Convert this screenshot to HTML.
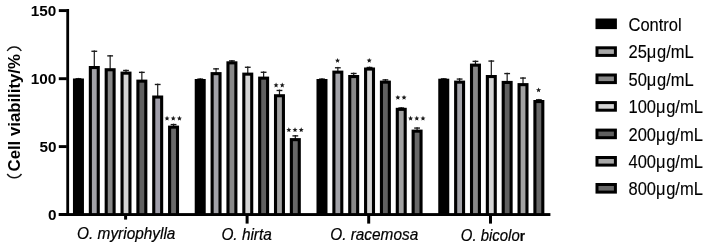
<!DOCTYPE html>
<html><head><meta charset="utf-8"><style>
html,body{margin:0;padding:0;background:#fff;}
body{width:708px;height:248px;overflow:hidden;}
svg{display:block;filter:blur(0.4px);}
text{font-family:"Liberation Sans",sans-serif;fill:#000;}
.tl{font-size:15.3px;font-weight:bold;}
.xl{font-size:15.4px;font-style:italic;fill:#000;stroke:#000;stroke-width:0.2px;}
.sg{font-size:13px;}
.lg{font-size:16.5px;fill:#000;stroke:#000;stroke-width:0.12px;}
.rb{font-style:normal;font-weight:bold;font-size:13.8px;}
.txt{filter:grayscale(1);}
.yt{font-size:16.75px;font-weight:bold;}
</style></head><body>
<svg width="708" height="248" viewBox="0 0 708 248">
<rect x="77.85" y="77.90" width="1.2" height="1.60" fill="#1a1a1a"/>
<rect x="75.55" y="78.10" width="5.8" height="1.35" fill="#1a1a1a"/>
<rect x="93.70" y="50.40" width="1.2" height="16.60" fill="#1a1a1a"/>
<rect x="91.40" y="50.60" width="5.8" height="1.35" fill="#1a1a1a"/>
<rect x="109.55" y="55.00" width="1.2" height="14.20" fill="#1a1a1a"/>
<rect x="107.25" y="55.20" width="5.8" height="1.35" fill="#1a1a1a"/>
<rect x="125.40" y="69.60" width="1.2" height="3.00" fill="#1a1a1a"/>
<rect x="123.10" y="69.80" width="5.8" height="1.35" fill="#1a1a1a"/>
<rect x="141.25" y="71.50" width="1.2" height="9.10" fill="#1a1a1a"/>
<rect x="138.95" y="71.70" width="5.8" height="1.35" fill="#1a1a1a"/>
<rect x="157.10" y="83.60" width="1.2" height="12.90" fill="#1a1a1a"/>
<rect x="154.80" y="83.80" width="5.8" height="1.35" fill="#1a1a1a"/>
<rect x="172.95" y="123.70" width="1.2" height="2.90" fill="#1a1a1a"/>
<rect x="170.65" y="123.90" width="5.8" height="1.35" fill="#1a1a1a"/>
<rect x="199.62" y="78.20" width="1.2" height="1.80" fill="#1a1a1a"/>
<rect x="197.32" y="78.40" width="5.8" height="1.35" fill="#1a1a1a"/>
<rect x="215.47" y="68.00" width="1.2" height="5.10" fill="#1a1a1a"/>
<rect x="213.17" y="68.20" width="5.8" height="1.35" fill="#1a1a1a"/>
<rect x="231.32" y="60.00" width="1.2" height="2.30" fill="#1a1a1a"/>
<rect x="229.02" y="60.20" width="5.8" height="1.35" fill="#1a1a1a"/>
<rect x="247.17" y="66.40" width="1.2" height="7.20" fill="#1a1a1a"/>
<rect x="244.87" y="66.60" width="5.8" height="1.35" fill="#1a1a1a"/>
<rect x="263.02" y="71.40" width="1.2" height="6.20" fill="#1a1a1a"/>
<rect x="260.72" y="71.60" width="5.8" height="1.35" fill="#1a1a1a"/>
<rect x="278.87" y="89.60" width="1.2" height="5.60" fill="#1a1a1a"/>
<rect x="276.57" y="89.80" width="5.8" height="1.35" fill="#1a1a1a"/>
<rect x="294.72" y="135.00" width="1.2" height="4.10" fill="#1a1a1a"/>
<rect x="292.42" y="135.20" width="5.8" height="1.35" fill="#1a1a1a"/>
<rect x="321.39" y="78.20" width="1.2" height="1.80" fill="#1a1a1a"/>
<rect x="319.09" y="78.40" width="5.8" height="1.35" fill="#1a1a1a"/>
<rect x="337.24" y="66.90" width="1.2" height="4.70" fill="#1a1a1a"/>
<rect x="334.94" y="67.10" width="5.8" height="1.35" fill="#1a1a1a"/>
<rect x="353.09" y="72.60" width="1.2" height="3.40" fill="#1a1a1a"/>
<rect x="350.79" y="72.80" width="5.8" height="1.35" fill="#1a1a1a"/>
<rect x="368.94" y="66.60" width="1.2" height="1.90" fill="#1a1a1a"/>
<rect x="366.64" y="66.80" width="5.8" height="1.35" fill="#1a1a1a"/>
<rect x="384.79" y="79.00" width="1.2" height="2.60" fill="#1a1a1a"/>
<rect x="382.49" y="79.20" width="5.8" height="1.35" fill="#1a1a1a"/>
<rect x="400.64" y="107.10" width="1.2" height="1.70" fill="#1a1a1a"/>
<rect x="398.34" y="107.30" width="5.8" height="1.35" fill="#1a1a1a"/>
<rect x="416.49" y="127.20" width="1.2" height="3.40" fill="#1a1a1a"/>
<rect x="414.19" y="127.40" width="5.8" height="1.35" fill="#1a1a1a"/>
<rect x="443.16" y="78.00" width="1.2" height="1.70" fill="#1a1a1a"/>
<rect x="440.86" y="78.20" width="5.8" height="1.35" fill="#1a1a1a"/>
<rect x="459.01" y="78.20" width="1.2" height="3.40" fill="#1a1a1a"/>
<rect x="456.71" y="78.40" width="5.8" height="1.35" fill="#1a1a1a"/>
<rect x="474.86" y="60.50" width="1.2" height="4.10" fill="#1a1a1a"/>
<rect x="472.56" y="60.70" width="5.8" height="1.35" fill="#1a1a1a"/>
<rect x="490.71" y="60.20" width="1.2" height="15.80" fill="#1a1a1a"/>
<rect x="488.41" y="60.40" width="5.8" height="1.35" fill="#1a1a1a"/>
<rect x="506.56" y="72.70" width="1.2" height="9.20" fill="#1a1a1a"/>
<rect x="504.26" y="72.90" width="5.8" height="1.35" fill="#1a1a1a"/>
<rect x="522.41" y="77.20" width="1.2" height="6.90" fill="#1a1a1a"/>
<rect x="520.11" y="77.40" width="5.8" height="1.35" fill="#1a1a1a"/>
<rect x="538.26" y="98.90" width="1.2" height="2.10" fill="#1a1a1a"/>
<rect x="535.96" y="99.10" width="5.8" height="1.35" fill="#1a1a1a"/>
<rect x="72.95" y="78.50" width="11.0" height="135.70" fill="#000"/>
<rect x="88.80" y="66.00" width="11.0" height="148.20" fill="#000"/>
<rect x="91.90" y="69.10" width="4.80" height="145.10" fill="#a2a2a8"/>
<rect x="104.65" y="68.20" width="11.0" height="146.00" fill="#000"/>
<rect x="107.75" y="71.30" width="4.80" height="142.90" fill="#888888"/>
<rect x="120.50" y="71.60" width="11.0" height="142.60" fill="#000"/>
<rect x="123.60" y="74.70" width="4.80" height="139.50" fill="#d4d4d4"/>
<rect x="136.35" y="79.60" width="11.0" height="134.60" fill="#000"/>
<rect x="139.45" y="82.70" width="4.80" height="131.50" fill="#606060"/>
<rect x="152.20" y="95.50" width="11.0" height="118.70" fill="#000"/>
<rect x="155.30" y="98.60" width="4.80" height="115.60" fill="#a09eaa"/>
<rect x="168.05" y="125.60" width="11.0" height="88.60" fill="#000"/>
<rect x="171.15" y="128.70" width="4.80" height="85.50" fill="#686868"/>
<rect x="194.72" y="79.00" width="11.0" height="135.20" fill="#000"/>
<rect x="210.57" y="72.10" width="11.0" height="142.10" fill="#000"/>
<rect x="213.67" y="75.20" width="4.80" height="139.00" fill="#a2a2a8"/>
<rect x="226.42" y="61.30" width="11.0" height="152.90" fill="#000"/>
<rect x="229.52" y="64.40" width="4.80" height="149.80" fill="#888888"/>
<rect x="242.27" y="72.60" width="11.0" height="141.60" fill="#000"/>
<rect x="245.37" y="75.70" width="4.80" height="138.50" fill="#d4d4d4"/>
<rect x="258.12" y="76.60" width="11.0" height="137.60" fill="#000"/>
<rect x="261.22" y="79.70" width="4.80" height="134.50" fill="#606060"/>
<rect x="273.97" y="94.20" width="11.0" height="120.00" fill="#000"/>
<rect x="277.07" y="97.30" width="4.80" height="116.90" fill="#a2a2a2"/>
<rect x="289.82" y="138.10" width="11.0" height="76.10" fill="#000"/>
<rect x="292.92" y="141.20" width="4.80" height="73.00" fill="#686868"/>
<rect x="316.49" y="79.00" width="11.0" height="135.20" fill="#000"/>
<rect x="332.34" y="70.60" width="11.0" height="143.60" fill="#000"/>
<rect x="335.44" y="73.70" width="4.80" height="140.50" fill="#a2a2a8"/>
<rect x="348.19" y="75.00" width="11.0" height="139.20" fill="#000"/>
<rect x="351.29" y="78.10" width="4.80" height="136.10" fill="#888888"/>
<rect x="364.04" y="67.50" width="11.0" height="146.70" fill="#000"/>
<rect x="367.14" y="70.60" width="4.80" height="143.60" fill="#d4d4d4"/>
<rect x="379.89" y="80.60" width="11.0" height="133.60" fill="#000"/>
<rect x="382.99" y="83.70" width="4.80" height="130.50" fill="#606060"/>
<rect x="395.74" y="107.80" width="11.0" height="106.40" fill="#000"/>
<rect x="398.84" y="110.90" width="4.80" height="103.30" fill="#a2a2a2"/>
<rect x="411.59" y="129.60" width="11.0" height="84.60" fill="#000"/>
<rect x="414.69" y="132.70" width="4.80" height="81.50" fill="#686868"/>
<rect x="438.26" y="78.70" width="11.0" height="135.50" fill="#000"/>
<rect x="454.11" y="80.60" width="11.0" height="133.60" fill="#000"/>
<rect x="457.21" y="83.70" width="4.80" height="130.50" fill="#a2a2a8"/>
<rect x="469.96" y="63.60" width="11.0" height="150.60" fill="#000"/>
<rect x="473.06" y="66.70" width="4.80" height="147.50" fill="#888888"/>
<rect x="485.81" y="75.00" width="11.0" height="139.20" fill="#000"/>
<rect x="488.91" y="78.10" width="4.80" height="136.10" fill="#d4d4d4"/>
<rect x="501.66" y="80.90" width="11.0" height="133.30" fill="#000"/>
<rect x="504.76" y="84.00" width="4.80" height="130.20" fill="#606060"/>
<rect x="517.51" y="83.10" width="11.0" height="131.10" fill="#000"/>
<rect x="520.61" y="86.20" width="4.80" height="128.00" fill="#a2a2a2"/>
<rect x="533.36" y="100.00" width="11.0" height="114.20" fill="#000"/>
<rect x="536.46" y="103.10" width="4.80" height="111.10" fill="#686868"/>
<rect x="66.3" y="9" width="2.8" height="207" fill="#000"/>
<rect x="58.8" y="213.1" width="491.6" height="2.9" fill="#000"/>
<rect x="58.8" y="9.15" width="8" height="2.9" fill="#000"/>
<rect x="58.8" y="77.25" width="8" height="2.9" fill="#000"/>
<rect x="58.8" y="145.15" width="8" height="2.9" fill="#000"/>
<rect x="58.8" y="213.05" width="8" height="2.9" fill="#000"/>
<rect x="124.10" y="214" width="3" height="5.60" fill="#000"/>
<rect x="245.60" y="214" width="3" height="9.60" fill="#000"/>
<rect x="367.20" y="214" width="3" height="9.60" fill="#000"/>
<rect x="489.00" y="214" width="3" height="9.60" fill="#000"/>
<polygon points="167.05,115.80 167.76,117.48 169.57,117.63 168.19,118.82 168.61,120.59 167.05,119.65 165.49,120.59 165.91,118.82 164.53,117.63 166.34,117.48" fill="#1a1a1a"/>
<polygon points="173.25,115.80 173.96,117.48 175.77,117.63 174.39,118.82 174.81,120.59 173.25,119.65 171.69,120.59 172.11,118.82 170.73,117.63 172.54,117.48" fill="#1a1a1a"/>
<polygon points="179.45,115.80 180.16,117.48 181.97,117.63 180.59,118.82 181.01,120.59 179.45,119.65 177.89,120.59 178.31,118.82 176.93,117.63 178.74,117.48" fill="#1a1a1a"/>
<polygon points="276.07,82.60 276.78,84.28 278.59,84.43 277.21,85.62 277.63,87.39 276.07,86.45 274.51,87.39 274.93,85.62 273.55,84.43 275.36,84.28" fill="#1a1a1a"/>
<polygon points="282.27,82.60 282.98,84.28 284.79,84.43 283.41,85.62 283.83,87.39 282.27,86.45 280.71,87.39 281.13,85.62 279.75,84.43 281.56,84.28" fill="#1a1a1a"/>
<polygon points="288.82,127.30 289.53,128.98 291.34,129.13 289.96,130.32 290.38,132.09 288.82,131.15 287.26,132.09 287.68,130.32 286.30,129.13 288.11,128.98" fill="#1a1a1a"/>
<polygon points="295.02,127.30 295.73,128.98 297.54,129.13 296.16,130.32 296.58,132.09 295.02,131.15 293.46,132.09 293.88,130.32 292.50,129.13 294.31,128.98" fill="#1a1a1a"/>
<polygon points="301.22,127.30 301.93,128.98 303.74,129.13 302.36,130.32 302.78,132.09 301.22,131.15 299.66,132.09 300.08,130.32 298.70,129.13 300.51,128.98" fill="#1a1a1a"/>
<polygon points="337.54,58.00 338.25,59.68 340.06,59.83 338.68,61.02 339.10,62.79 337.54,61.85 335.98,62.79 336.40,61.02 335.02,59.83 336.83,59.68" fill="#1a1a1a"/>
<polygon points="369.24,57.90 369.95,59.58 371.76,59.73 370.38,60.92 370.80,62.69 369.24,61.75 367.68,62.69 368.10,60.92 366.72,59.73 368.53,59.58" fill="#1a1a1a"/>
<polygon points="397.84,94.90 398.55,96.58 400.36,96.73 398.98,97.92 399.40,99.69 397.84,98.75 396.28,99.69 396.70,97.92 395.32,96.73 397.13,96.58" fill="#1a1a1a"/>
<polygon points="404.04,94.90 404.75,96.58 406.56,96.73 405.18,97.92 405.60,99.69 404.04,98.75 402.48,99.69 402.90,97.92 401.52,96.73 403.33,96.58" fill="#1a1a1a"/>
<polygon points="410.59,115.80 411.30,117.48 413.11,117.63 411.73,118.82 412.15,120.59 410.59,119.65 409.03,120.59 409.45,118.82 408.07,117.63 409.88,117.48" fill="#1a1a1a"/>
<polygon points="416.79,115.80 417.50,117.48 419.31,117.63 417.93,118.82 418.35,120.59 416.79,119.65 415.23,120.59 415.65,118.82 414.27,117.63 416.08,117.48" fill="#1a1a1a"/>
<polygon points="422.99,115.80 423.70,117.48 425.51,117.63 424.13,118.82 424.55,120.59 422.99,119.65 421.43,120.59 421.85,118.82 420.47,117.63 422.28,117.48" fill="#1a1a1a"/>
<polygon points="538.56,87.50 539.27,89.18 541.08,89.33 539.70,90.52 540.12,92.29 538.56,91.35 537.00,92.29 537.42,90.52 536.04,89.33 537.85,89.18" fill="#1a1a1a"/>
<rect x="595.5" y="18.50" width="21.4" height="10.6" fill="#000"/>
<rect x="595.5" y="46.30" width="21.4" height="10.6" fill="#000"/>
<rect x="598.50" y="49.30" width="15.4" height="4.6" fill="#a8a8a8"/>
<rect x="595.5" y="73.50" width="21.4" height="10.6" fill="#000"/>
<rect x="598.50" y="76.50" width="15.4" height="4.6" fill="#888888"/>
<rect x="595.5" y="101.10" width="21.4" height="10.6" fill="#000"/>
<rect x="598.50" y="104.10" width="15.4" height="4.6" fill="#d4d4d4"/>
<rect x="595.5" y="128.60" width="21.4" height="10.6" fill="#000"/>
<rect x="598.50" y="131.60" width="15.4" height="4.6" fill="#606060"/>
<rect x="595.5" y="156.00" width="21.4" height="10.6" fill="#000"/>
<rect x="598.50" y="159.00" width="15.4" height="4.6" fill="#a8a8a8"/>
<rect x="595.5" y="183.00" width="21.4" height="10.6" fill="#000"/>
<rect x="598.50" y="186.00" width="15.4" height="4.6" fill="#686868"/>
<path d="M7.2,174.0 A8.6,8.6 0 0 0 21.5,174.0" fill="none" stroke="#151515" stroke-width="1.4"/>
<path d="M7.2,51.0 A8.2,8.2 0 0 1 21.3,51.0" fill="none" stroke="#151515" stroke-width="1.4"/>
<g class="txt">
<text x="56.4" y="15.80" text-anchor="end" class="tl">150</text>
<text x="56.4" y="83.90" text-anchor="end" class="tl">100</text>
<text x="56.4" y="151.80" text-anchor="end" class="tl">50</text>
<text x="56.4" y="219.70" text-anchor="end" class="tl">0</text>
<text transform="translate(126.25,239.20) scale(1,1.05)" text-anchor="middle" class="xl">O. myriophylla</text>
<text transform="translate(246.60,239.60) scale(1,1.05)" text-anchor="middle" class="xl">O. hirta</text>
<text transform="translate(374.20,240.30) scale(1,1.05)" text-anchor="middle" class="xl">O. racemosa</text>
<text transform="translate(492.90,241.40) scale(0.97,1.05)" text-anchor="middle" class="xl">O. bicolo<tspan class="rb">r</tspan></text>
<text transform="translate(628.5,30.60) scale(1,1.06)" class="lg">Control</text>
<text transform="translate(628.5,58.40) scale(1,1.06)" class="lg">25μ<tspan dx="0.6">g/mL</tspan></text>
<text transform="translate(628.5,85.60) scale(1,1.06)" class="lg">50μ<tspan dx="0.6">g/mL</tspan></text>
<text transform="translate(628.5,113.20) scale(1,1.06)" class="lg">100μ<tspan dx="0.6">g/mL</tspan></text>
<text transform="translate(628.5,140.70) scale(1,1.06)" class="lg">200μ<tspan dx="0.6">g/mL</tspan></text>
<text transform="translate(628.5,168.10) scale(1,1.06)" class="lg">400μ<tspan dx="0.6">g/mL</tspan></text>
<text transform="translate(628.5,195.10) scale(1,1.06)" class="lg">800μ<tspan dx="0.6">g/mL</tspan></text>
<text transform="translate(20.3,112.8) rotate(-90)" text-anchor="middle" class="yt">Cell viability/%</text>
</g>
</svg>
</body></html>
